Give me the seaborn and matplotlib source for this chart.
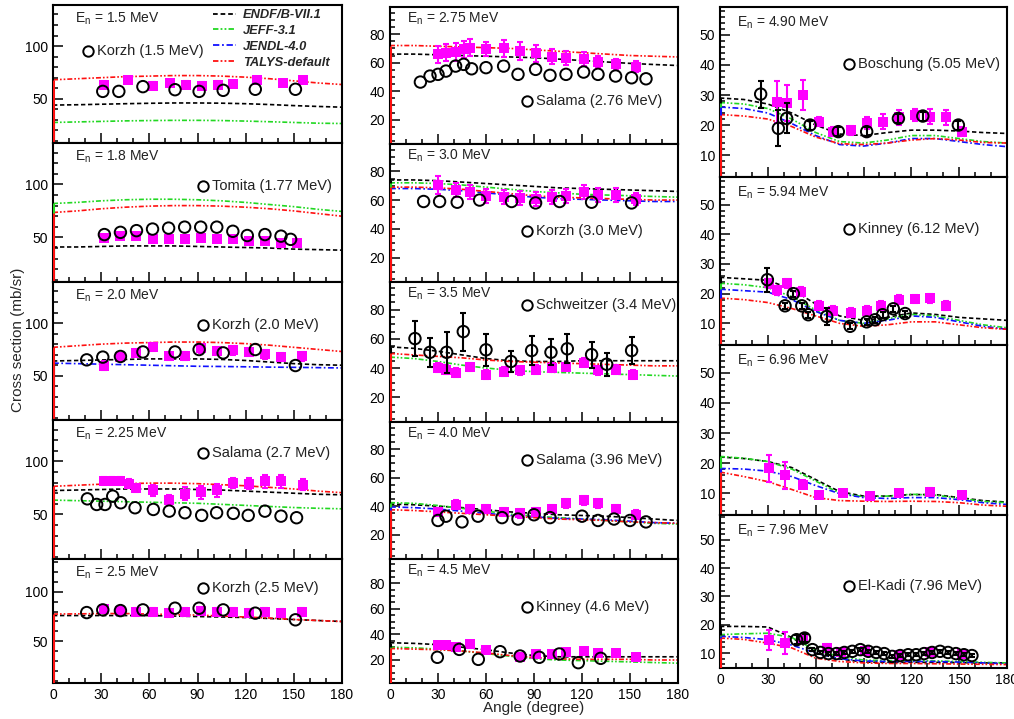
import matplotlib
matplotlib.use("Agg")
import matplotlib.pyplot as plt
import seaborn as sns
from matplotlib.lines import Line2D
from matplotlib.ticker import MultipleLocator

sns.set_theme(style="ticks")
plt.rcParams['font.family'] = ['Liberation Sans', 'DejaVu Sans']

# ---------------- data ----------------
ANG = [0, 15, 30, 45, 60, 75, 90, 105, 120, 135, 150, 165, 180]
KORZH_ANG = [21, 31, 42, 56, 76, 91, 106, 126, 151]

# panel 1 : En = 1.5 MeV
p1_endf = [44, 44.3, 44.8, 45.3, 45.7, 46, 46, 45.8, 45.3, 44.5, 43.5, 42.7, 42]
p1_jeff = [27.5, 28, 28.5, 29, 29.3, 29.5, 29.5, 29.3, 28.8, 28.2, 27.5, 26.8, 26.5]
p1_jendl = None
p1_talys = [68, 69, 70, 71, 71.5, 72, 72, 71.5, 70.5, 69, 67, 65, 63.5]
p1_sq_ang = [32, 47, 62, 73, 83, 93, 103, 112, 127, 143, 156]
p1_sq_val = [63.5, 68, 62.5, 65, 63.5, 62.5, 63.5, 64, 68, 65, 68]
p1_sq_err = [3, 3, 3, 3, 3, 3, 3, 3, 3, 3, 3]
p1_ci_ang = [31, 41, 56, 76, 91, 106, 126, 151]
p1_ci_val = [57, 57, 61.5, 58.6, 57, 58, 59, 59]

# panel 2 : En = 1.8 MeV
p2_endf = [41, 41, 41.5, 42, 42, 42, 41.5, 41, 40.5, 40, 39, 38.5, 38]
p2_jeff = [82, 83, 84.5, 85.5, 86, 86, 85.5, 84.5, 83, 81, 79, 76.5, 74.5]
p2_jendl = None
p2_talys = [73.5, 75, 77, 78.5, 79.5, 80, 80, 79.5, 78.5, 77, 75, 72.5, 70]
p2_sq_ang = [32, 42, 52, 62, 72, 82, 92, 102, 112, 122, 132, 142, 152]
p2_sq_val = [49.7, 51.2, 51.8, 48.8, 48.8, 48.8, 49.4, 48.2, 48.8, 46.7, 46.7, 45.2, 44.5]
p2_sq_err = [2, 2, 2, 2, 2, 2, 2, 2, 2, 2, 2, 2, 2]
p2_ci_ang = [32, 42, 52, 62, 72, 82, 92, 102, 112, 121, 132, 142, 148]
p2_ci_val = [52.7, 54.8, 56.4, 57.9, 58.8, 59.7, 59.7, 59.7, 55.8, 51.8, 52.7, 51.2, 48.2]

# panel 3 : En = 2.0 MeV
p3_endf = [64, 64.5, 65, 65.5, 66, 66, 66, 65.5, 64.5, 63, 61.5, 60.5, 60]
p3_jeff = None
p3_jendl = [62, 61.5, 61, 60.5, 60, 59.5, 59, 58.8, 58.5, 58.2, 58, 57.7, 57.4]
p3_talys = [77, 78.5, 80, 81, 81.5, 82, 82, 81.5, 80.5, 79, 77, 75, 73]
p3_sq_ang = [32, 42, 52, 62, 72, 82, 92, 102, 112, 122, 132, 142, 155]
p3_sq_val = [59.7, 68, 71.7, 77.3, 69, 69, 75.9, 73.6, 74, 72.6, 70.3, 67.7, 68.3]
p3_sq_err = [4, 4, 4, 4, 4, 4, 4, 4, 4, 4, 4, 4, 4]
p3_ci_ang = KORZH_ANG
p3_ci_val = [65.1, 67.7, 68.3, 72.6, 72.6, 74.9, 71.7, 74.9, 59.7]

# panel 4 : En = 2.25 MeV
p4_endf = [72.5, 73, 73.5, 74, 74, 74, 73.5, 73, 72, 71, 70, 69, 68.5]
p4_jeff = [63.5, 63, 62.5, 62, 61.5, 61, 60.5, 59.5, 58.5, 57.5, 56.5, 55.8, 55.3]
p4_jendl = None
p4_talys = [76.5, 77.5, 78.5, 79, 79.5, 79.5, 79, 78, 77, 75.5, 74, 72, 70.5]
p4_sq_ang = [32, 37, 42, 47.5, 52, 62.5, 72, 82, 92, 102, 112, 122, 132, 142, 155.5]
p4_sq_val = [81.3, 81.3, 81.3, 79, 75, 72.8, 63.5, 69.7, 71, 72.8, 79.7, 79, 81.3, 81.3, 78.1]
p4_sq_err = [4, 4, 4, 4, 4, 5, 5, 6, 6, 6, 5, 5, 6, 6, 5]
p4_ci_ang = [21.4, 27.2, 32.4, 37.2, 42.2, 51.1, 62.5, 72.4, 82.2, 92.6, 101.9, 112.3, 121.6, 132, 142, 151.7]
p4_ci_val = [64.7, 59.4, 59.4, 67.2, 61, 56.3, 54.7, 53.1, 51.6, 49.1, 51.6, 51, 49.1, 53.1, 48.4, 46.9]

# panel 5 : En = 2.5 MeV
p5_endf = [76, 76, 76, 76, 76, 75.5, 75, 74.5, 74, 73, 72, 71, 70]
p5_jeff = None
p5_jendl = None
p5_talys = [77.5, 77.7, 78, 78, 77.5, 77, 76.5, 75.5, 74.5, 73.5, 72, 71, 70]
p5_sq_ang = [32, 42, 52, 62, 72, 82, 92, 102, 112, 122, 132, 142, 155]
p5_sq_val = [83, 81, 80, 80, 79, 80, 81, 80, 80, 79, 80, 79, 80]
p5_sq_err = [4, 4, 4, 4, 4, 4, 4, 4, 4, 4, 4, 4, 4]
p5_ci_ang = KORZH_ANG
p5_ci_val = [79, 81.7, 81, 81.7, 83.4, 83.4, 81.7, 78.4, 71.7]

# panel 6 : En = 2.75 MeV
p6_endf = [66, 66, 65.5, 65, 64.5, 64, 63.5, 62.5, 61.5, 60.5, 59.5, 58.7, 58]
p6_jeff = None
p6_jendl = None
p6_talys = [72, 72, 71.5, 71, 70.5, 70, 69, 68, 67, 66, 65, 64.5, 64]
p6_sq_ang = [30, 35, 41, 46, 50, 60, 71, 81, 91, 101, 110, 121, 130, 141, 154]
p6_sq_val = [65.9, 67.1, 67.5, 69.4, 70.6, 69.4, 70, 68.2, 66.6, 64.3, 63.5, 62.8, 60.5, 58.8, 57.2]
p6_sq_err = [6, 6, 6, 6, 6, 5, 6, 6, 6, 5, 5, 5, 4, 4, 4]
p6_ci_ang = [19, 25, 30, 35, 41, 46, 51, 60, 71, 80, 91, 100, 110, 121, 130, 141, 151, 160]
p6_ci_val = [46.4, 50.6, 51.8, 54.1, 57.6, 58.8, 55.7, 56.5, 57.6, 51.8, 55.3, 51.1, 51.8, 53.4, 51.8, 50.6, 49.4, 48.7]

# panel 7 : En = 3.0 MeV
p7_endf = [74, 74, 73.5, 72.5, 71.5, 70.5, 69.5, 68.5, 68, 67.5, 67, 66.5, 66]
p7_jeff = [72, 72, 71.5, 70.5, 69, 67.5, 66, 65, 64, 63.5, 63, 62.5, 62]
p7_jendl = [68, 68, 67.5, 66.5, 65, 63.5, 62, 61, 60.5, 60, 59.5, 59, 59]
p7_talys = [69, 69, 68.5, 67.5, 66, 64.5, 63, 62, 61.5, 61, 60.5, 60, 60]
p7_sq_ang = [30, 41, 50, 60, 71, 81, 91, 101, 110, 121, 130, 141, 154]
p7_sq_val = [70.5, 67, 65.6, 62.8, 62.1, 61.4, 60.7, 62.1, 62.8, 65.6, 63.5, 63.5, 60.7]
p7_sq_err = [6, 5, 5, 5, 5, 5, 5, 5, 5, 5, 5, 5, 4]
p7_ci_ang = KORZH_ANG
p7_ci_val = [59, 59, 58.5, 60, 59, 58, 59, 58.5, 58]

# panel 8 : En = 3.5 MeV
p8_endf = [54.5, 53.5, 51.5, 49, 46.5, 45, 44.5, 44.5, 45, 45, 45, 45, 45]
p8_jeff = [47.5, 46.5, 44.5, 42, 40, 38.5, 37.5, 37, 36.5, 36, 35.5, 35, 34.5]
p8_jendl = None
p8_talys = [50, 49, 48, 47, 45.5, 44.5, 44, 43.5, 43, 42.5, 42, 41.5, 41.5]
p8_sq_ang = [30, 35, 41, 50, 60, 71, 81, 91, 101, 110, 121, 130, 141, 152]
p8_sq_val = [40.3, 39, 36.8, 40.7, 35.5, 37.4, 38.4, 39, 40.3, 40.7, 43.8, 38.4, 39, 35.5]
p8_sq_err = [3, 3, 3, 3, 3, 3, 3, 3, 3, 3, 3, 3, 3, 3]
p8_ci_ang = [15.6, 25, 35.4, 45.8, 60, 75.6, 88.5, 100.6, 110.8, 126, 135.4, 151]
p8_ci_val = [60.2, 50.8, 50.8, 65, 52.5, 44.5, 52, 50.8, 53.2, 49.2, 42.6, 52]
p8_ci_err = [12, 10, 14, 13, 11, 7, 10, 9, 10, 9, 8, 9]

# panel 9 : En = 4.0 MeV
p9_endf = [41.5, 41, 40, 39, 37.5, 36, 35, 34, 33.5, 33, 32, 31, 30]
p9_jeff = [42.5, 42, 40.5, 38.5, 36.5, 34.5, 33, 32, 31, 30, 29, 28, 27.5]
p9_jendl = [39.5, 39, 38, 36.5, 35, 33.5, 32.5, 31.5, 31, 30.5, 29.5, 28.5, 28]
p9_talys = [37.5, 37, 36, 35, 34, 33, 32, 31, 30.5, 30, 29, 28.5, 28]
p9_sq_ang = [30, 41, 50, 60, 71, 81, 91, 101, 110, 121, 130, 141, 154]
p9_sq_val = [36, 41, 38, 38, 36, 35, 36, 38, 42, 44, 42, 38, 34]
p9_sq_err = [3, 3, 3, 3, 3, 3, 3, 3, 3, 3, 3, 3, 3]
p9_ci_ang = [30, 35, 45, 55, 70, 80, 90, 100, 120, 130, 140, 150, 160]
p9_ci_val = [30, 33, 29, 33, 32, 31, 34, 32, 33, 30, 31, 30, 29]

# panel 10 : En = 4.5 MeV
p10_endf = [33.5, 33, 32, 30, 28, 25.5, 23.5, 22.5, 22.5, 22.5, 22.5, 22.5, 22.5]
p10_jeff = [30, 29.5, 28.5, 27, 25, 23, 21, 20, 19.5, 19, 18.5, 18, 17.5]
p10_jendl = None
p10_talys = [29, 28.5, 28, 27, 25.5, 23.5, 22, 21, 20.5, 20.5, 20.5, 20, 20]
p10_sq_ang = [30, 35, 41, 50, 60, 81, 91, 101, 110, 121, 130, 141, 154]
p10_sq_val = [31.7, 31.7, 29.9, 32.5, 27.8, 22.1, 24.7, 24.7, 26.5, 27.3, 25.7, 25.7, 22.1]
p10_sq_err = [2, 2, 2, 2, 2, 2, 2, 2, 2, 2, 2, 2, 2]
p10_ci_ang = [29.6, 43.3, 55.2, 68.8, 81.3, 93.3, 105.8, 117.7, 131.7]
p10_ci_val = [22.1, 28.3, 20.5, 26.5, 23.1, 22.1, 24.7, 17.9, 21.3]

# panel 11 : En = 4.90 MeV
p11_endf = [29, 28.5, 27, 24, 20, 17, 16.5, 17.5, 18.3, 18.3, 18, 17.5, 17.2]
p11_jeff = [27.5, 27, 25.5, 22, 17.5, 14.5, 14, 15, 16.5, 16.5, 15.5, 14.5, 14]
p11_jendl = [26, 25.5, 24, 20.5, 16.5, 13.5, 13, 14, 15.5, 15.5, 14.5, 13.5, 12.8]
p11_talys = [23.5, 23, 22, 19.5, 16, 13.8, 13.5, 14, 15, 15.5, 15, 14.2, 14]
p11_sq_ang = [36, 42, 52, 62, 71, 82, 92, 102, 112, 122, 132, 142, 152]
p11_sq_val = [27.8, 27.2, 30, 21.1, 17.8, 18.3, 20.6, 21.1, 22.6, 23.3, 22.8, 22.6, 17.8]
p11_sq_err = [7, 6, 5, 1.5, 1.5, 1.5, 2, 2.5, 2.5, 2, 2.5, 2.5, 1.5]
p11_ci_ang = [25.5, 36.6, 41.8, 56.5, 74.2, 92, 111.9, 127.2, 149.5]
p11_ci_val = [30.3, 18.9, 22.2, 20, 17.8, 17.8, 22.2, 23, 20]
p11_ci_err = [4.5, 6, 5, 1.5, 1.5, 1.5, 1.5, 1.5, 1.5]

# panel 12 : En = 5.94 MeV
p12_endf = [25.5, 25, 24.5, 21.5, 16.5, 12.5, 11, 12, 13.5, 13, 12, 11.5, 11]
p12_jeff = [23.5, 23, 22, 19, 14.5, 11, 10, 11.5, 13, 12.5, 11, 9.5, 8.5]
p12_jendl = [21.5, 21, 20.5, 18, 14, 11, 10, 11, 12.5, 12, 10.5, 9, 8]
p12_talys = [18.5, 18, 17, 15, 12.5, 10, 9, 9.5, 10.5, 10.5, 9.5, 8.5, 8]
p12_sq_ang = [31, 36, 42, 51, 62, 71, 82, 92, 101, 112, 122, 132, 142]
p12_sq_val = [23.5, 21.2, 23.5, 20.6, 15.9, 14.2, 13.6, 14.2, 15.9, 18, 18.2, 18.5, 15.9]
p12_sq_err = [1.5, 1.5, 1.5, 1.5, 1.5, 1.5, 1.5, 1.5, 1.5, 1.5, 1.5, 1.5, 1.5]
p12_ci_ang = [29.7, 40.8, 46, 51.3, 55.4, 66.9, 81.6, 92, 97.2, 102, 108.7, 116.1]
p12_ci_val = [24.7, 15.9, 20, 15.9, 12.9, 12.3, 9, 10.5, 11.2, 12.9, 14.9, 13.3]
p12_ci_err = [4, 1, 1, 1, 1, 3, 1, 1, 1, 1, 1, 1]

# panel 13 : En = 6.96 MeV
p13_endf = [22, 21.5, 20.5, 18.5, 14.5, 10.5, 9, 9, 9.5, 9.5, 8.5, 7.5, 7]
p13_jeff = [22.2, 21.6, 20.5, 18, 14, 10, 8.8, 9, 9.6, 9.3, 8.3, 7.2, 6.8]
p13_jendl = [18.2, 18, 17.3, 15.5, 12.5, 9.8, 8.5, 8.2, 8.5, 8.5, 7.8, 6.8, 6.2]
p13_talys = [17, 15.5, 13.8, 11.2, 8.5, 7.5, 7.3, 7.2, 7.3, 7.2, 6.8, 6, 5.6]
p13_sq_ang = [31, 41, 52, 62, 77, 94, 112, 132, 152]
p13_sq_val = [18.2, 16, 12.7, 9.4, 10, 8.9, 10, 10.5, 9.4]
p13_sq_err = [4.5, 4.5, 1.5, 1, 1, 1, 1, 1.2, 1]

# panel 14 : En = 7.96 MeV
p14_endf = [19.4, 19.4, 19.2, 15.5, 10, 7.9, 6.8, 6.7, 6.7, 6.7, 6.6, 6.5, 6.5]
p14_jeff = [16.5, 16.8, 17, 15.5, 11, 8.8, 7.5, 7.3, 7.3, 7.2, 7, 6.7, 6.5]
p14_jendl = [15.9, 15.5, 14.7, 12.8, 10, 8, 7.2, 7, 7, 7, 6.8, 6.5, 6.2]
p14_talys = [15.3, 14.8, 13.5, 11.8, 8.2, 7, 6.5, 6.3, 6.3, 6.2, 6.1, 6, 5.9]
p14_sq_ang = [31, 41, 52, 67, 76, 91, 112, 132, 152]
p14_sq_val = [14.7, 13.5, 15, 11.8, 10.2, 10.6, 9.4, 10.2, 9.8]
p14_sq_err = [3.5, 4, 1.5, 1.5, 1, 1, 1, 1, 1]
p14_ci_ang = [48, 53, 58, 63, 68, 73, 78, 83, 88, 93, 98, 103, 108, 113, 118, 123, 128, 133, 138, 143, 148, 153, 158]
p14_ci_val = [14.7, 15.3, 11.2, 10.2, 9.8, 9.8, 10.2, 10.6, 11.2, 10.6, 10.2, 9.8, 8.8, 9.1, 9.4, 9.4, 9.8, 10.2, 10.6, 10.2, 9.8, 9.4, 9.1]
p14_ci_err = [1.5, 1.5, 0.5, 0.5, 0.5, 0.5, 0.5, 0.5, 0.5, 0.5, 0.5, 0.5, 0.5, 0.5, 0.5, 0.5, 0.5, 0.5, 0.5, 0.5, 0.5, 0.5, 0.5]

EN_LABELS = ["1.5", "1.8", "2.0", "2.25", "2.5", "2.75", "3.0", "3.5", "4.0", "4.5",
             "4.90", "5.94", "6.96", "7.96"]
REF_LABELS = ["Korzh (1.5 MeV)", "Tomita (1.77 MeV)", "Korzh (2.0 MeV)", "Salama (2.7 MeV)",
              "Korzh (2.5 MeV)", "Salama (2.76 MeV)", "Korzh (3.0 MeV)", "Schweitzer (3.4 MeV)",
              "Salama (3.96 MeV)", "Kinney (4.6 MeV)", "Boschung (5.05 MeV)", "Kinney (6.12 MeV)",
              None, "El-Kadi (7.96 MeV)"]
MODEL_NAMES = ["ENDF/B-VII.1", "JEFF-3.1", "JENDL-4.0", "TALYS-default"]

# ---------------- styles / layout ----------------
MODEL_COLORS = ["black", "#22d822", "#1010ff", "#ff1010"]
MODEL_DASHES = [(0, (2.6, 1.6)), (0, (3, 1.2, 1, 1.2, 1, 1.2)), (0, (3.5, 1.5, 1, 1.5)),
                (0, (3, 1.2, 1, 1.2, 1, 1.2))]
MAG = "#ff00ff"

W, H = 1014, 719
COL_X = [(53, 342), (390, 678), (720, 1007)]
COL_ROWS = [[5, 143, 282, 420, 559, 683],
            [7, 144, 282, 422, 559, 683],
            [7, 177, 345, 515, 668]]
COL_YLIM = [[(8, 139)] * 4 + [(8, 133)],
            [(3, 99)] * 4 + [(2, 99)],
            [(2.7, 59.3)] * 3 + [(4.7, 58.8)]]
COL_YTICK = [(50, 10), (20, 5), (10, 2)]
REF_POS = [(88, 51), (203, 186), (203, 325), (203, 453), (203, 588),
           (527, 101), (527, 231), (527, 305), (527, 460), (527, 607),
           (849, 64), (849, 229), None, (849, 586)]
EN_OFF = [(22, 14), (17, 12), (17, 16)]

g = globals()
fig = plt.figure(figsize=(W / 100, H / 100), dpi=100)

panel = 0
for c in range(3):
    x0, x1 = COL_X[c]
    rows = COL_ROWS[c]
    nrow = len(rows) - 1
    for r in range(nrow):
        panel += 1
        y0, y1 = rows[r], rows[r + 1]
        ax = fig.add_axes([x0 / W, 1 - y1 / H, (x1 - x0) / W, (y1 - y0) / H])
        ylo, yhi = COL_YLIM[c][r]
        pre = f"p{panel}_"

        # evaluated-data curves
        for m, key in enumerate(["endf", "jeff", "jendl", "talys"]):
            vals = g[pre + key]
            if vals is None:
                continue
            sns.lineplot(x=ANG, y=vals, ax=ax, color=MODEL_COLORS[m], linewidth=1.2,
                         estimator=None, sort=False, zorder=2)
            ax.lines[-1].set_linestyle(MODEL_DASHES[m])
            ax.vlines(ANG[0], ylo, vals[0], color=MODEL_COLORS[m], linewidth=2.2, zorder=3)

        # this work: magenta squares with error bars
        sa, sv, se = g[pre + "sq_ang"], g[pre + "sq_val"], g[pre + "sq_err"]
        ax.errorbar(sa, sv, yerr=se, fmt="none", ecolor=MAG, elinewidth=1.5,
                    capsize=2.5, capthick=1.5, zorder=4)
        sns.scatterplot(x=sa, y=sv, ax=ax, marker="s", s=58, color=MAG,
                        edgecolor=MAG, linewidth=0, zorder=5)

        # other measurement: open circles
        if (pre + "ci_ang") in g:
            ca, cv = g[pre + "ci_ang"], g[pre + "ci_val"]
            ce = g.get(pre + "ci_err")
            if ce is not None:
                ax.errorbar(ca, cv, yerr=ce, fmt="none", ecolor="black", elinewidth=1.5,
                            capsize=2.5, capthick=1.5, zorder=6)
            sns.scatterplot(x=ca, y=cv, ax=ax, marker="o", s=68, facecolors="none",
                            edgecolor="black", linewidth=1.4, zorder=7)

        ax.set_xlim(0, 180)
        ax.set_ylim(ylo, yhi)
        ax.set_xlabel("")
        ax.set_ylabel("")
        ax.xaxis.set_major_locator(MultipleLocator(30))
        ax.xaxis.set_minor_locator(MultipleLocator(10))
        ax.yaxis.set_major_locator(MultipleLocator(COL_YTICK[c][0]))
        ax.yaxis.set_minor_locator(MultipleLocator(COL_YTICK[c][1]))
        ax.tick_params(which="both", direction="in", top=False, right=False,
                       colors="black", labelsize=10, width=1.1)
        ax.tick_params(which="major", length=7)
        ax.tick_params(which="minor", length=3.5)
        if r != nrow - 1:
            ax.tick_params(axis="x", labelbottom=False)
        for sp in ax.spines.values():
            sp.set_linewidth(1.5)
            sp.set_color("black")
            sp.set_zorder(2.5)

        # energy label
        ex, ey = EN_OFF[c]
        ax.text(ex / (x1 - x0), 1 - ey / (y1 - y0),
                r"E$_\mathregular{n}$ = " + EN_LABELS[panel - 1] + " MeV",
                transform=ax.transAxes, fontsize=10, va="center", ha="left", color="#222222")

        # reference label
        if REF_LABELS[panel - 1] is not None:
            px, py = REF_POS[panel - 1]
            axx = (px - x0) / (x1 - x0)
            axy = 1 - (py - y0) / (y1 - y0)
            ax.plot([axx], [axy], transform=ax.transAxes, marker="o", ms=7.5, mfc="none",
                    mec="black", mew=1.4, linestyle="none", clip_on=False)
            ax.text(axx + 9 / (x1 - x0), axy, REF_LABELS[panel - 1], transform=ax.transAxes,
                    fontsize=10.5, va="center", ha="left", color="#222222")

        if panel == 1:
            handles = [Line2D([0], [0], color=MODEL_COLORS[m], lw=1.3, linestyle=MODEL_DASHES[m])
                       for m in range(4)]
            ax.legend(handles, MODEL_NAMES, loc="upper left",
                      bbox_to_anchor=((213 - x0) / (x1 - x0), 1 - 4 / (y1 - y0)),
                      frameon=False, borderaxespad=0, borderpad=0, handlelength=1.8,
                      handletextpad=0.5, labelspacing=0.3,
                      prop=dict(style="italic", weight="bold", size=9.3))

fig.text(18 / W, 1 - 340 / H, "Cross section (mb/sr)", rotation=90, ha="center",
         va="center", fontsize=11)
fig.text(534 / W, 1 - 708 / H, "Angle (degree)", ha="center", va="center", fontsize=11)

fig.savefig("out.png", dpi=100)
